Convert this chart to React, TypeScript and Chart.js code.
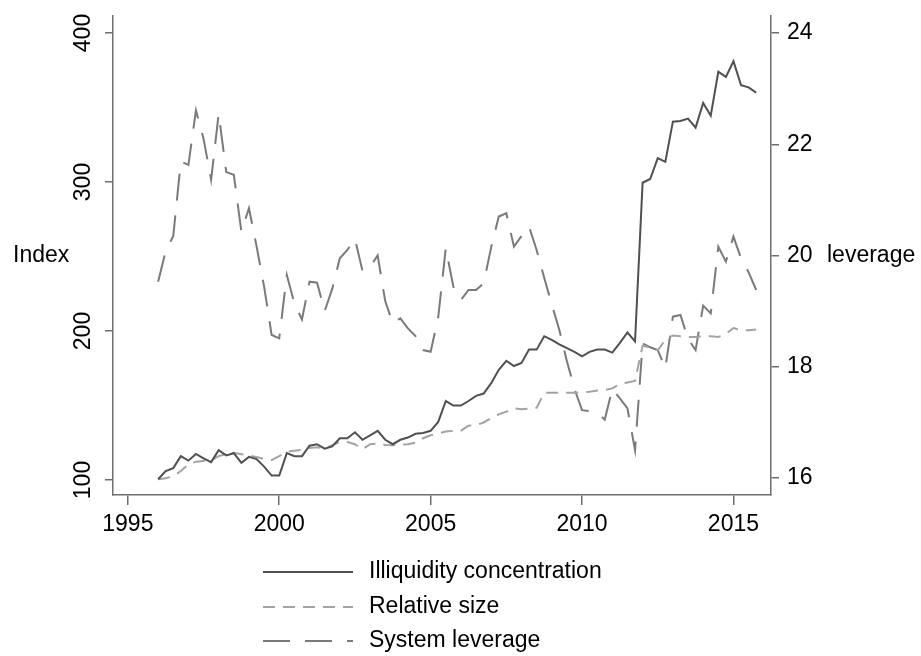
import React, { useEffect, useRef } from "react";
import { Chart, registerables } from "chart.js";

Chart.register(...registerables);

// Quarterly observations, 1996q1 .. 2015q4
const startYear = 1996;

const illiquidity = [
  100.5, 106, 108, 116, 113, 117.5, 114.5, 112, 120, 116.5,
  118, 111.5, 115.5, 114, 109, 103, 103, 118, 116, 116,
  123, 124, 121, 122.5, 128, 128, 132, 127, 130, 133,
  127, 124, 127, 128.5, 131, 131.5, 133, 139, 153, 150,
  150, 153, 156.5, 158, 165, 174, 180, 176.5, 178.5, 187.5,
  187.5, 196.5, 194, 191, 188.5, 186, 183, 186, 187.5, 187.5,
  185.5, 192, 199, 193, 299.5, 302, 316, 313.5, 340.5, 341,
  342.5, 336.5, 353, 344.5, 374, 370.5, 381, 365, 363.5, 360,
];

const relativeSize = [
  100.5, 101.2, 102.5, 106, 110.5, 112.3, 112.8, 113.3, 116, 117.3,
  118.3, 117.3, 116.3, 115.5, 114, 113.4, 116, 119, 119.7, 120.3,
  121.5, 122, 121, 123.3, 125.5, 125.5, 124, 120.6, 124, 124.5,
  123.5, 123.3, 123.7, 124, 125, 128, 130, 131.3, 132.5, 133,
  133.1, 136.5, 136.8, 138.6, 141.5, 144, 145.9, 148.2, 147.5, 148,
  148.5, 158.5, 158.6, 158.6, 158.6, 158.6, 158.8, 159.2, 160, 160.3,
  161.5, 164.5, 165.5, 166.5, 190, 189, 187, 194, 197, 196.5,
  196, 196, 196.5, 196.5, 196, 198, 202, 200.5, 200.5, 201,
];

const leverage = [
  19.53, 20.08, 20.35, 21.69, 21.63, 22.61, 22.1, 21.36, 22.55, 21.5,
  21.45, 20.43, 20.85, 20.17, 19.44, 18.57, 18.51, 19.65, 19.14, 18.85,
  19.53, 19.51, 19.0, 19.4, 19.95, 20.1, 20.3, 19.72, 19.8, 20.0,
  19.18, 18.78, 18.87, 18.69, 18.55, 18.3, 18.27, 18.89, 20.13, 19.44,
  19.2, 19.38, 19.38, 19.5, 20.15, 20.7, 20.76, 20.16, 20.35, 20.52,
  20.1, 19.6, 19.12, 18.66, 18.1, 17.6, 17.22, 17.2, 17.17, 17.05,
  17.6, 17.43, 17.25, 16.5, 18.42, 18.35, 18.3, 17.97, 18.9, 18.93,
  18.5, 18.3, 19.1, 18.96, 20.16, 19.89, 20.34, 19.95, 19.7, 19.38,
];

const xTicks = [1995, 2000, 2005, 2010, 2015];
const leftTicks = [100, 200, 300, 400];
const rightTicks = [16, 18, 20, 22, 24];
const seriesLabels = ["Illiquidity concentration", "Relative size", "System leverage"];
const leftTitle = "Index";
const rightTitle = "leverage";

const FONT = "'Liberation Sans', Arial, sans-serif";
const FONT_SIZE = 23;
const AXIS_COLOR = "#6e6e6e";

const toPoints = (vals: number[]) =>
  vals.map((v, i) => ({ x: startYear + i / 4, y: v }));

const clearPadding = (s: any) => {
  s.paddingTop = 0;
  s.paddingBottom = 0;
  s.paddingLeft = 0;
  s.paddingRight = 0;
};

const labelPlugin = {
  id: "stataLabels",
  afterDraw(chart: any) {
    const ctx = chart.ctx as CanvasRenderingContext2D;
    const yL = chart.scales.yL;
    const area = chart.chartArea;
    ctx.save();
    ctx.fillStyle = "#000";
    ctx.font = `${FONT_SIZE}px ${FONT}`;
    // rotated left tick labels
    leftTicks.forEach((v) => {
      const y = yL.getPixelForValue(v);
      ctx.save();
      ctx.translate(84, y);
      ctx.rotate(-Math.PI / 2);
      ctx.textAlign = "center";
      ctx.textBaseline = "middle";
      ctx.fillText(String(v), 0, 0);
      ctx.restore();
    });
    const midY = (area.top + area.bottom) / 2;
    ctx.textAlign = "left";
    ctx.textBaseline = "middle";
    ctx.fillText(leftTitle, 13, midY);
    ctx.fillText(rightTitle, 827, midY);
    // legend
    const rows = [572, 607, 641];
    chart.data.datasets.forEach((ds: any, k: number) => {
      ctx.save();
      ctx.strokeStyle = ds.borderColor;
      ctx.lineWidth = ds.borderWidth;
      ctx.setLineDash(ds.borderDash || []);
      ctx.beginPath();
      ctx.moveTo(263, rows[k]);
      ctx.lineTo(353, rows[k]);
      ctx.stroke();
      ctx.restore();
      ctx.fillText(ds.label, 369, rows[k]);
    });
    ctx.restore();
  },
};

export default function App() {
  const canvasRef = useRef<HTMLCanvasElement | null>(null);

  useEffect(() => {
    document.body.style.margin = "0";
    const canvas = canvasRef.current;
    if (!canvas) return;
    const tickFont = { family: FONT, size: FONT_SIZE };
    const chart = new Chart(canvas, {
      type: "line",
      data: {
        datasets: [
          {
            label: seriesLabels[0],
            data: toPoints(illiquidity),
            yAxisID: "yL",
            borderColor: "#505050",
            borderWidth: 2,
            pointRadius: 0,
            tension: 0,
          },
          {
            label: seriesLabels[1],
            data: toPoints(relativeSize),
            yAxisID: "yL",
            borderColor: "#a3a3a3",
            borderWidth: 2,
            borderDash: [12, 8],
            pointRadius: 0,
            tension: 0,
          },
          {
            label: seriesLabels[2],
            data: toPoints(leverage),
            yAxisID: "yR",
            borderColor: "#7a7a7a",
            borderWidth: 2,
            borderDash: [27, 15],
            pointRadius: 0,
            tension: 0,
          },
        ],
      },
      options: {
        responsive: false,
        devicePixelRatio: 1,
        animation: false,
        parsing: false,
        normalized: true,
        layout: { autoPadding: false, padding: { top: 16, left: 0, right: 0, bottom: 0 } },
        plugins: { legend: { display: false }, tooltip: { enabled: false } },
        scales: {
          x: {
            type: "linear",
            min: 1994.51,
            max: 2016.24,
            afterBuildTicks: (s: any) => {
              s.ticks = xTicks.map((v) => ({ value: v }));
            },
            afterFit: (s: any) => {
              s.height = 161;
              clearPadding(s);
            },
            ticks: {
              font: tickFont,
              color: "#000",
              padding: 6,
              maxRotation: 0,
              minRotation: 0,
              autoSkip: false,
              callback: (v: any) => String(v),
            },
            grid: {
              drawOnChartArea: false,
              drawTicks: true,
              tickLength: 10,
              color: AXIS_COLOR,
              lineWidth: 1.5,
            },
            border: { display: true, color: AXIS_COLOR, width: 1.5 },
          },
          yL: {
            type: "linear",
            position: "left",
            min: 89.93,
            max: 411.4,
            afterBuildTicks: (s: any) => {
              s.ticks = leftTicks.map((v) => ({ value: v }));
            },
            afterFit: (s: any) => {
              s.width = 113;
              clearPadding(s);
            },
            ticks: { display: false },
            grid: {
              drawOnChartArea: false,
              drawTicks: true,
              tickLength: 8,
              color: AXIS_COLOR,
              lineWidth: 1.5,
            },
            border: { display: true, color: AXIS_COLOR, width: 1.5 },
          },
          yR: {
            type: "linear",
            position: "right",
            min: 15.694,
            max: 24.306,
            afterBuildTicks: (s: any) => {
              s.ticks = rightTicks.map((v) => ({ value: v }));
            },
            afterFit: (s: any) => {
              s.width = 150;
              clearPadding(s);
            },
            ticks: {
              font: tickFont,
              color: "#000",
              padding: 8,
              autoSkip: false,
              callback: (v: any) => String(v),
            },
            grid: {
              drawOnChartArea: false,
              drawTicks: true,
              tickLength: 8,
              color: AXIS_COLOR,
              lineWidth: 1.5,
            },
            border: { display: true, color: AXIS_COLOR, width: 1.5 },
          },
        },
      } as any,
      plugins: [labelPlugin],
    });
    return () => chart.destroy();
  }, []);

  return (
    <div style={{ width: 921, height: 656, background: "#fff" }}>
      <canvas ref={canvasRef} width={921} height={656} style={{ display: "block" }} />
    </div>
  );
}
